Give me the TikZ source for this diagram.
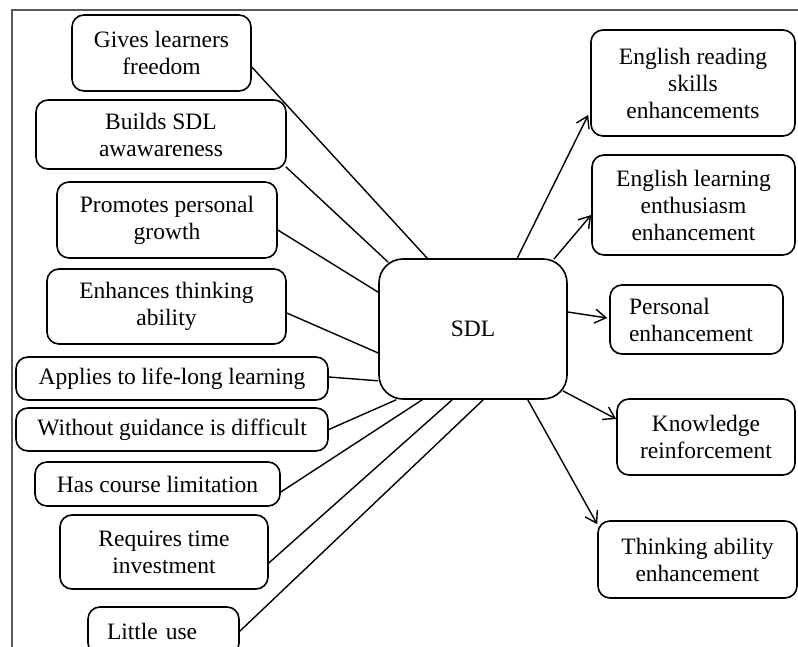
\documentclass[tikz,border=0pt]{standalone}
\usepackage{fontspec}
\setmainfont{Liberation Serif}
\usetikzlibrary{arrows.meta,calc}
\begin{document}
\begin{tikzpicture}[x=1pt,y=-1pt,
  box/.style={draw, line width=1.6pt, rounded corners=12pt, inner sep=0pt, align=center,
    font=\fontsize{23.5}{27}\selectfont},
  leftbox/.style={box, align=left, inner xsep=19pt, anchor=center},
  hub/.style={box, rounded corners=24pt, minimum width=188pt, minimum height=140pt},
  link/.style={line width=1.4pt},
  arr/.style={line width=1.4pt, -{Straight Barb[length=11pt,width=14pt,line width=1.4pt]}}
]
\clip (0,0) rectangle (798,647);
\draw[line width=1.2pt, black!65] (12,660) -- (12,10) -- (810,10);

% centre
\node[hub] (sdl) at (473,329) {SDL};

% left boxes
\node[box, minimum width=179pt, minimum height=76pt] (b1) at (161.5,53) {Gives learners\\freedom};
\node[box, minimum width=250pt, minimum height=69pt] (b2) at (161,134.5) {Builds SDL\\awawareness};
\node[box, minimum width=220pt, minimum height=76pt] (b3) at (167,220) {Promotes personal\\growth};
\node[box, minimum width=239pt, minimum height=75pt] (b4) at (166.5,306.5) {Enhances thinking\\ability};
\node[box, minimum width=312pt, minimum height=43pt] (b5) at (172,378.5) {Applies to life-long learning};
\node[box, minimum width=312pt, minimum height=43pt] (b6) at (172,429.5) {Without guidance is difficult};
\node[box, minimum width=245pt, minimum height=44pt] (b7) at (157.5,484) {Has course limitation};
\node[box, minimum width=208pt, minimum height=74pt] (b8) at (164,552) {Requires time\\investment};
\node[leftbox, text width=113pt, minimum height=48pt] (b9) at (163.5,631) {Little use};

% right boxes
\node[box, minimum width=204pt, minimum height=106pt] (r1) at (693,83) {English reading\\skills\\enhancements};
\node[box, minimum width=203pt, minimum height=100pt] (r2) at (693.5,205) {English learning\\enthusiasm\\enhancement};
\node[leftbox, text width=135pt, minimum height=69pt] (r3) at (696.5,319.5) {Personal\\enhancement};
\node[box, minimum width=178pt, minimum height=76pt] (r4) at (706,437) {Knowledge\\reinforcement};
\node[box, minimum width=199pt, minimum height=77pt] (r5) at (697.5,559.5) {Thinking ability\\enhancement};

% left connectors
\draw[link] ($(b1.east)+(0,14)$) -- ($(sdl.north west)+(49,0)$);
\draw[link] ($(b2.south east)+(-1,-3)$) -- ($(sdl.north west)+(10,4)$);
\draw[link] ($(b3.east)+(0,10)$) -- ($(sdl.north west)+(0,34)$);
\draw[link] ($(b4.east)+(0,6.5)$) -- ($(sdl.west)+(0,24)$);
\draw[link] ($(b5.east)+(0,-1.5)$) -- ($(sdl.south west)+(0,-19)$);
\draw[link] (b6.east) -- ($(sdl.south west)+(18,0)$);
\draw[link] ($(b7.east)+(0,8)$) -- ($(sdl.south west)+(44,0)$);
\draw[link] ($(b8.east)+(0,11)$) -- ($(sdl.south west)+(74,0)$);
\draw[link] ($(b9.north east)+(0,25)$) -- ($(sdl.south west)+(105,0)$);

% right arrows
\draw[arr] ($(sdl.north west)+(139,0)$) -- ($(r1.west)+(-2,32)$);
\draw[arr] ($(sdl.north east)+(-14,1)$) -- ($(r2.west)+(0,10)$);
\draw[arr] ($(sdl.east)+(0,-17)$) -- ($(r3.west)+(-2,-1.5)$);
\draw[arr] ($(sdl.south east)+(-5,-9)$) -- ($(r4.west)+(0,-18)$);
\draw[arr] ($(sdl.south east)+(-40,0)$) -- ($(r5.north west)+(0,4)$);
\end{tikzpicture}
\end{document}
